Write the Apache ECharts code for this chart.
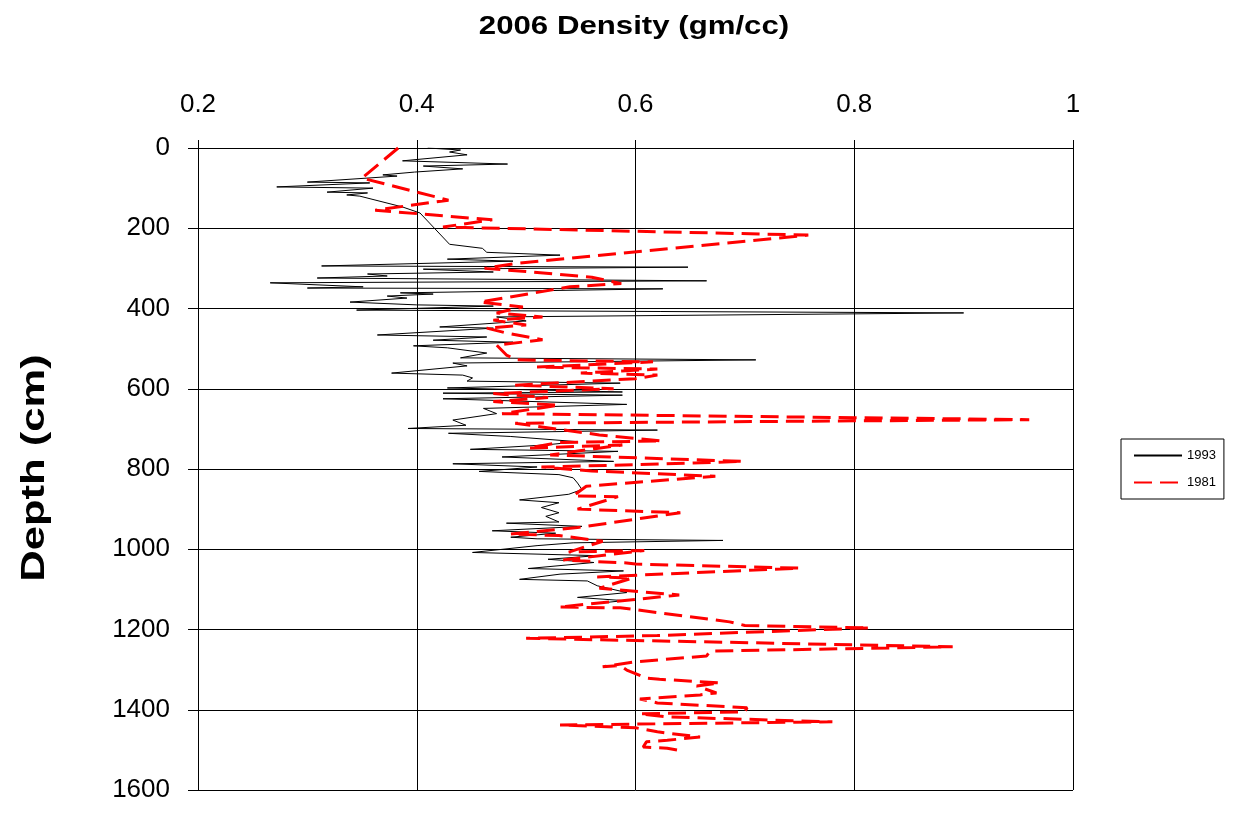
<!DOCTYPE html>
<html>
<head>
<meta charset="utf-8">
<script src="https://cdn.jsdelivr.net/npm/echarts@6/dist/echarts.min.js"></script>
<style>html,body{margin:0;padding:0;background:#fff}#c{width:1234px;height:813px}</style>
</head>
<body>
<div id="c"></div>
<script>
// 1993 series: density (gm/cc) and depth (cm), in drawing order
const density1993 = [0.41,0.44,0.43,0.446,0.387,0.483,0.406,0.442,0.398,0.369,0.382,0.30,0.357,0.272,0.36,0.318,0.355,0.336,0.348,0.387,0.403,0.43,0.46,0.464,0.531,0.428,0.488,0.313,0.648,0.406,0.47,0.355,0.373,0.309,0.665,0.266,0.351,0.30,0.625,0.385,0.415,0.373,0.391,0.339,0.40,0.47,0.345,0.90,0.473,0.50,0.421,0.47,0.364,0.464,0.415,0.488,0.397,0.428,0.464,0.44,0.71,0.433,0.446,0.377,0.442,0.451,0.446,0.586,0.428,0.588,0.424,0.588,0.424,0.592,0.461,0.473,0.433,0.445,0.392,0.62,0.429,0.486,0.547,0.518,0.449,0.584,0.478,0.58,0.433,0.51,0.457,0.53,0.543,0.547,0.551,0.539,0.494,0.53,0.514,0.53,0.518,0.53,0.482,0.551,0.469,0.527,0.486,0.51,0.68,0.543,0.51,0.451,0.565,0.52,0.562,0.502,0.589,0.531,0.494,0.556,0.565,0.592,0.547,0.589,0.565];
const depth1993 = [0,5,10,17,32,40,45,52,60,67,70,85,87,97,100,110,112,117,120,147,162,240,250,260,267,277,282,294,297,302,309,314,319,324,331,336,346,349,351,361,364,369,374,384,391,394,404,411,421,431,446,449,466,471,479,484,493,498,511,523,528,536,543,561,566,573,581,586,598,608,611,616,625,639,649,662,678,691,699,703,711,719,732,740,751,756,770,781,787,795,806,814,822,835,851,863,877,884,896,909,918,932,935,943,954,960,970,974,978,984,991,1008,1016,1025,1033,1048,1054,1062,1075,1079,1091,1108,1120,1128,1135];
// 1981 series
const density1981 = [0.383,0.350,0.429,0.362,0.469,0.424,0.758,0.493,0.462,0.50,0.56,0.587,0.540,0.458,0.497,0.473,0.515,0.47,0.50,0.464,0.482,0.515,0.473,0.482,0.492,0.616,0.51,0.62,0.55,0.62,0.60,0.49,0.58,0.47,0.52,0.47,0.53,0.478,0.96,0.49,0.567,0.624,0.53,0.502,0.588,0.522,0.698,0.604,0.514,0.56,0.673,0.555,0.543,0.584,0.547,0.641,0.547,0.486,0.53,0.57,0.539,0.608,0.534,0.592,0.60,0.75,0.565,0.597,0.567,0.64,0.53,0.586,0.601,0.686,0.70,0.814,0.62,0.50,0.89,0.668,0.665,0.598,0.57,0.586,0.592,0.61,0.622,0.677,0.656,0.674,0.659,0.604,0.62,0.702,0.70,0.604,0.629,0.78,0.531,0.60,0.62,0.659,0.629,0.61,0.607,0.629,0.643];
const depth1981 = [0,75,130,155,179,197,217,287,300,308,322,338,346,384,396,411,421,429,441,449,461,478,491,516,528,533,546,551,561,566,575,591,600,612,622,632,641,662,677,686,715,730,734,748,740,765,781,789,795,805,818,843,867,869,900,909,946,962,966,980,1007,1003,1027,1034,1037,1047,1069,1072,1097,1114,1144,1146,1151,1181,1190,1196,1215,1222,1243,1254,1266,1281,1293,1290,1301,1321,1324,1333,1341,1358,1363,1373,1383,1395,1405,1410,1418,1430,1438,1445,1455,1468,1476,1480,1493,1496,1503];
const xTicks = {min: 0.2, max: 1, step: 0.2};
const yTicks = {min: 0, max: 1600, step: 200};
const seriesNames = ['1993', '1981'];
const titleText = '2006 Density (gm/cc)';
const yName = 'Depth (cm)';

const pairs = (xs, ys) => xs.map((v, i) => [v, ys[i]]);
const FONT = 'Liberation Sans, Arial, sans-serif';

const chart = echarts.init(document.getElementById('c'), null, {renderer: 'canvas'});
chart.setOption({
  animation: false,
  backgroundColor: '#fff',
  graphic: [
    {
      type: 'text', x: 634, y: 27, scaleX: 1.2,
      style: {text: titleText, fontFamily: FONT, fontWeight: 'bold', fontSize: 26, fill: '#000',
        textAlign: 'center', textVerticalAlign: 'middle'}
    },
    {
      type: 'text', x: 35, y: 468, rotation: Math.PI / 2, scaleX: 1.32,
      style: {text: yName, fontFamily: FONT, fontWeight: 'bold', fontSize: 33, fill: '#000',
        textAlign: 'center', textVerticalAlign: 'middle'}
    }
  ],
  grid: {left: 198, right: 161, top: 148, bottom: 23, containLabel: false},
  legend: {
    orient: 'vertical', left: 1121, top: 439,
    data: seriesNames,
    itemWidth: 48, itemHeight: 10, itemGap: 14,
    padding: [10, 8, 10, 12],
    borderColor: '#000', borderWidth: 1, borderRadius: 0,
    itemStyle: {opacity: 0},
    textStyle: {fontFamily: FONT, fontSize: 13, color: '#000'}
  },
  xAxis: {
    type: 'value', position: 'top',
    min: xTicks.min, max: xTicks.max, interval: xTicks.step,
    axisLine: {show: true, lineStyle: {color: '#000', width: 1}},
    axisTick: {show: true, inside: false, length: 8, lineStyle: {color: '#000'}},
    splitLine: {show: true, lineStyle: {color: '#000', width: 1}},
    axisLabel: {margin: 30, fontFamily: FONT, fontSize: 26, color: '#000',
      formatter: v => String(Math.round(v * 10) / 10)}
  },
  yAxis: {
    type: 'value', inverse: true,
    min: yTicks.min, max: yTicks.max, interval: yTicks.step,
    axisLine: {show: true, lineStyle: {color: '#000', width: 1}},
    axisTick: {show: true, inside: false, length: 10, lineStyle: {color: '#000'}},
    splitLine: {show: true, lineStyle: {color: '#000', width: 1}},
    axisLabel: {margin: 28, fontFamily: FONT, fontSize: 26, color: '#000',
      formatter: v => String(v)}
  },
  series: [
    {
      name: seriesNames[0], type: 'line', data: pairs(density1993, depth1993),
      showSymbol: false, symbol: 'none', z: 3,
      lineStyle: {color: '#000', width: 1},
      itemStyle: {color: '#000'}
    },
    {
      name: seriesNames[1], type: 'line', data: pairs(density1981, depth1981),
      showSymbol: false, symbol: 'none', z: 4,
      lineStyle: {color: '#ff0000', width: 3, type: [18, 8]},
      itemStyle: {color: '#ff0000'}
    }
  ]
});
</script>
</body>
</html>
